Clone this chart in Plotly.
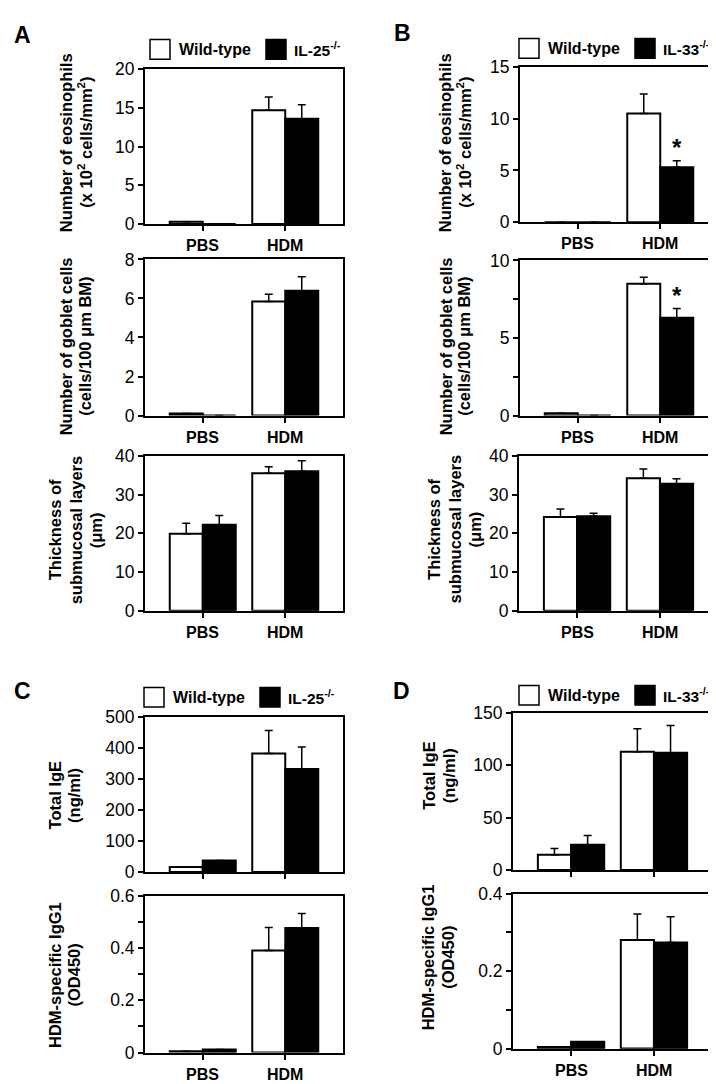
import plotly.graph_objects as go

W, H = 716, 1084
FONT = "Liberation Sans, Arial, sans-serif"

categories = ["PBS", "HDM"]

# Panel A (IL-25)
a1_wt = [0.3, 14.7]
a1_wt_err = [0, 1.7]
a1_ko = [0, 13.6]
a1_ko_err = [0, 1.8]

a2_wt = [0.1, 5.85]
a2_wt_err = [0, 0.37]
a2_ko = [0, 6.4]
a2_ko_err = [0, 0.72]

a3_wt = [19.9, 35.5]
a3_wt_err = [2.7, 1.7]
a3_ko = [22.2, 36.0]
a3_ko_err = [2.4, 2.7]

# Panel B (IL-33)
b1_wt = [0, 10.5]
b1_wt_err = [0, 1.9]
b1_ko = [0, 5.3]
b1_ko_err = [0, 0.65]

b2_wt = [0.15, 8.5]
b2_wt_err = [0, 0.42]
b2_ko = [0, 6.3]
b2_ko_err = [0, 0.6]

b3_wt = [24.2, 34.2]
b3_wt_err = [2.1, 2.4]
b3_ko = [24.4, 32.8]
b3_ko_err = [0.8, 1.3]

# Panel C (IL-25)
c1_wt = [16, 382]
c1_wt_err = [0, 74]
c1_ko = [37, 332]
c1_ko_err = [0, 71]

c2_wt = [0.005, 0.39]
c2_wt_err = [0, 0.088]
c2_ko = [0.012, 0.476]
c2_ko_err = [0, 0.055]

# Panel D (IL-33)
d1_wt = [14.6, 113]
d1_wt_err = [6, 22]
d1_ko = [24, 112]
d1_ko_err = [9, 26]

d2_wt = [0.004, 0.28]
d2_wt_err = [0, 0.067]
d2_ko = [0.018, 0.274]
d2_ko_err = [0, 0.066]

# tick values / labels (labelled major ticks, unlabelled minor ticks)
a1_ticks = [0, 5, 10, 15, 20]
a1_ticktext = ["0", "5", "10", "15", "20"]
a2_ticks = [0, 2, 4, 6, 8]
a2_ticktext = ["0", "2", "4", "6", "8"]
a3_ticks = [0, 10, 20, 30, 40]
a3_ticktext = ["0", "10", "20", "30", "40"]
b1_ticks = [0, 5, 10, 15]
b1_ticktext = ["0", "5", "10", "15"]
b2_ticks = [0, 5, 10]
b2_ticktext = ["0", "5", "10"]
b2_minor = [2.5, 7.5]
b3_ticks = [0, 10, 20, 30, 40]
b3_ticktext = ["0", "10", "20", "30", "40"]
c1_ticks = [0, 100, 200, 300, 400, 500]
c1_ticktext = ["0", "100", "200", "300", "400", "500"]
c2_ticks = [0, 0.2, 0.4, 0.6]
c2_ticktext = ["0", "0.2", "0.4", "0.6"]
c2_minor = [0.1, 0.3, 0.5]
d1_ticks = [0, 50, 100, 150]
d1_ticktext = ["0", "50", "100", "150"]
d2_ticks = [0, 0.2, 0.4]
d2_ticktext = ["0", "0.2", "0.4"]
d2_minor = [0.1, 0.3]

mu = "\u03bc"
panels = [
    dict(wt=a1_wt, we=a1_wt_err, ko=a1_ko, ke=a1_ko_err, yr=[0, 20], tv=a1_ticks, tt=a1_ticktext, mn=None,
         box=(137, 335, 52, 210), xl=True,
         title=[("Number of eosinophils", 57.5), ("(x 10<sup>2</sup> cells/mm<sup>2</sup>)", 77)], ty=127),
    dict(wt=a2_wt, we=a2_wt_err, ko=a2_ko, ke=a2_ko_err, yr=[0, 8], tv=a2_ticks, tt=a2_ticktext, mn=None,
         box=(137, 335, 246, 405), xl=True,
         title=[("Number of goblet cells", 57.5), ("(cells/100 " + mu + "m BM)", 77)], ty=335),
    dict(wt=a3_wt, we=a3_wt_err, ko=a3_ko, ke=a3_ko_err, yr=[0, 40], tv=a3_ticks, tt=a3_ticktext, mn=None,
         box=(137, 335, 446, 604), xl=True,
         title=[("Thickness of", 47), ("submucosal layers", 68), ("(" + mu + "m)", 88)], ty=522),
    dict(wt=b1_wt, we=b1_wt_err, ko=b1_ko, ke=b1_ko_err, yr=[0, 15], tv=b1_ticks, tt=b1_ticktext, mn=None,
         box=(512, 710, 50, 208), xl=True,
         title=[("Number of eosinophils", 436.5), ("(x 10<sup>2</sup> cells/mm<sup>2</sup>)", 456)], ty=127),
    dict(wt=b2_wt, we=b2_wt_err, ko=b2_ko, ke=b2_ko_err, yr=[0, 10], tv=b2_ticks, tt=b2_ticktext, mn=b2_minor,
         box=(512, 710, 247, 405), xl=True,
         title=[("Number of goblet cells", 437.5), ("(cells/100 " + mu + "m BM)", 456)], ty=335),
    dict(wt=b3_wt, we=b3_wt_err, ko=b3_ko, ke=b3_ko_err, yr=[0, 40], tv=b3_ticks, tt=b3_ticktext, mn=None,
         box=(511, 710, 446, 604), xl=True,
         title=[("Thickness of", 426.5), ("submucosal layers", 447), ("(" + mu + "m)", 467)], ty=521),
    dict(wt=c1_wt, we=c1_wt_err, ko=c1_ko, ke=c1_ko_err, yr=[0, 500], tv=c1_ticks, tt=c1_ticktext, mn=None,
         box=(137, 335, 712, 870), xl=False,
         title=[("Total IgE", 47), ("(ng/ml)", 66.5)], ty=792),
    dict(wt=c2_wt, we=c2_wt_err, ko=c2_ko, ke=c2_ko_err, yr=[0, 0.6], tv=c2_ticks, tt=c2_ticktext, mn=c2_minor,
         box=(137, 335, 894, 1054), xl=True,
         title=[("HDM-specific IgG1", 47), ("(OD450)", 66.5)], ty=975),
    dict(wt=d1_wt, we=d1_wt_err, ko=d1_ko, ke=d1_ko_err, yr=[0, 150], tv=d1_ticks, tt=d1_ticktext, mn=None,
         box=(505, 704, 708, 868), xl=False,
         title=[("Total IgE", 421), ("(ng/ml)", 440.5)], ty=772),
    dict(wt=d2_wt, we=d2_wt_err, ko=d2_ko, ke=d2_ko_err, yr=[0, 0.4], tv=d2_ticks, tt=d2_ticktext, mn=d2_minor,
         box=(505, 704, 892, 1050), xl=True,
         title=[("HDM-specific IgG1", 420), ("(OD450)", 440.5)], ty=957),
]

fig = go.Figure()
layout = {}
annotations = []
shapes = []

def err(arr):
    return dict(type="data", array=arr, arrayminus=[0] * len(arr), symmetric=False,
                color="black", thickness=1.5, width=4)

for i, p in enumerate(panels):
    n = "" if i == 0 else str(i + 1)
    xa, ya = "x" + n, "y" + n
    fig.add_trace(go.Bar(x=categories, y=p["wt"], error_y=err(p["we"]), name="Wild-type",
                         marker=dict(color="white", line=dict(color="black", width=2)),
                         xaxis=xa, yaxis=ya, showlegend=False, offsetgroup="wt"))
    fig.add_trace(go.Bar(x=categories, y=p["ko"], error_y=err(p["ke"]), name="KO",
                         marker=dict(color="black", line=dict(color="black", width=2)),
                         xaxis=xa, yaxis=ya, showlegend=False, offsetgroup="ko"))
    x0, x1, y0, y1 = p["box"]
    layout["xaxis" + n] = dict(
        domain=[x0 / W, x1 / W], anchor=ya, range=[-0.7, 1.7], type="category",
        categoryorder="array", categoryarray=categories,
        showline=True, mirror=True, linecolor="black", linewidth=2,
        ticks="outside", ticklen=5, tickwidth=2, tickcolor="black",
        showticklabels=False,
        showgrid=False, zeroline=False, fixedrange=True)
    yax = dict(
        domain=[1 - y1 / H, 1 - y0 / H], anchor=xa, range=p["yr"],
        tickmode="array", tickvals=p["tv"], ticktext=p["tt"],
        showline=True, mirror=True, linecolor="black", linewidth=2,
        ticks="outside", ticklen=5, tickwidth=2, tickcolor="black",
        tickfont=dict(family=FONT, size=17.5, color="black"),
        showgrid=False, zeroline=False, fixedrange=True)
    if p["mn"] is not None:
        yax["minor"] = dict(tickmode="array", tickvals=p["mn"], ticks="outside", ticklen=5,
                            tickwidth=2, tickcolor="black", showgrid=False)
    layout["yaxis" + n] = yax
    # category labels under the x axis
    if p["xl"]:
        for cat in categories:
            annotations.append(dict(
                text="<b>" + cat + "</b>", xref=xa, yref=ya + " domain", x=cat, y=0,
                xanchor="center", yanchor="top", yshift=-11, showarrow=False,
                font=dict(family=FONT, size=16, color="black")))
    for text, px in p["title"]:
        annotations.append(dict(
            text="<b>" + text + "</b>", xref="paper", yref="paper",
            x=px / W, y=1 - p["ty"] / H, xanchor="center", yanchor="middle",
            textangle=-90, showarrow=False,
            font=dict(family=FONT, size=16.5, color="black")))

# significance asterisks (B1, B2 knockout HDM bars)
for idx in (3, 4):
    p = panels[idx]
    n = str(idx + 1)
    annotations.append(dict(
        text="<b>*</b>", xref="x" + n, yref="y" + n, x=1.2, y=p["ko"][1] + p["ke"][1],
        xanchor="center", yanchor="bottom", showarrow=False, yshift=-2,
        font=dict(family=FONT, size=24, color="black")))

# panel letters
for letter, px, py in [("A", 14, 17), ("B", 394, 15), ("C", 15, 686), ("D", 393, 686)]:
    annotations.append(dict(
        text="<b>" + letter + "</b>", xref="paper", yref="paper",
        x=px / W, y=1 - py / H, xanchor="center", yanchor="middle", showarrow=False,
        font=dict(family=FONT, size=23, color="black")))

# legends
legends = [
    (142, 22, "IL-25"), (511, 21, "IL-33"),
    (136, 682, "IL-25"), (511, 680, "IL-33"),
]
for lx, ly, ko_name in legends:
    shapes.append(dict(type="rect", xref="paper", yref="paper",
                       x0=lx / W, x1=(lx + 20) / W, y0=1 - (ly + 20) / H, y1=1 - ly / H,
                       fillcolor="white", line=dict(color="black", width=1.5)))
    annotations.append(dict(text="<b>Wild-type</b>", xref="paper", yref="paper",
                            x=(lx + 27) / W, y=1 - (ly + 10) / H, xanchor="left", yanchor="middle",
                            showarrow=False, font=dict(family=FONT, size=16, color="black")))
    bx = lx + 116
    shapes.append(dict(type="rect", xref="paper", yref="paper",
                       x0=bx / W, x1=(bx + 20) / W, y0=1 - (ly + 20) / H, y1=1 - ly / H,
                       fillcolor="black", line=dict(color="black", width=1.5)))
    annotations.append(dict(text="<b>" + ko_name + "<sup>-/-</sup></b>", xref="paper", yref="paper",
                            x=(bx + 26) / W, y=1 - (ly + 10) / H, xanchor="left", yanchor="middle",
                            showarrow=False, font=dict(family=FONT, size=15.5, color="black")))

fig.update_layout(
    width=W, height=H, margin=dict(l=0, r=0, t=0, b=0),
    paper_bgcolor="white", plot_bgcolor="white",
    barmode="group", bargap=0.2, bargroupgap=0,
    showlegend=False, annotations=annotations, shapes=shapes,
    font=dict(family=FONT, color="black"),
    **layout)

fig.write_html("out.html")
